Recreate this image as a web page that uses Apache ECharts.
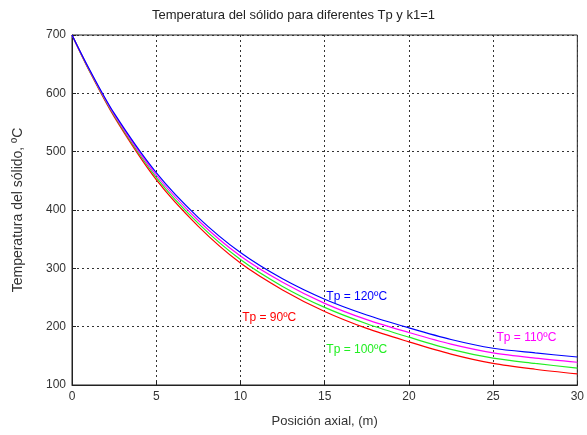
<!DOCTYPE html>
<html>
<head>
<meta charset="utf-8">
<script src="https://cdn.jsdelivr.net/npm/echarts@6/dist/echarts.min.js"></script>
<style>
html,body{margin:0;padding:0;background:#fff;}
#chart{width:587px;height:435px;}
</style>
</head>
<body>
<div id="chart"></div>
<script>
// posicion axial (m)
var posicion = [0, 1, 2.5, 5, 7.5, 10, 12.5, 15, 17.5, 20, 22.5, 25, 27.5, 30];
// temperatura del solido para cada Tp
var tp90  = [700, 640, 560, 452, 372, 309, 263, 226, 197, 174, 153, 137, 127, 119];
var tp100 = [700, 641, 562, 456, 377, 315, 269, 233, 205, 182, 161, 146, 137, 129];
var tp110 = [700, 642, 564, 460, 382, 321, 276, 240, 212, 190, 170, 155, 146, 139];
var tp120 = [700, 643, 566, 464, 387, 327, 282, 247, 220, 198, 178, 163, 155, 148];
var xTicks = [0, 5, 10, 15, 20, 25, 30];
var yTicks = [100, 200, 300, 400, 500, 600, 700];

var fuente = 'Liberation Sans';

function pares(ys){
    var out = [];
    for(var i=0;i<posicion.length;i++){
        out.push([posicion[i], ys[i]]);
    }
    return out;
}

// etiqueta de texto en coordenadas de datos
function etiqueta(txt, x, y, color){
    return {
        symbol:'circle',
        symbolSize:0,
        coord:[x, y],
        label:{
            show:true,
            formatter:txt,
            position:'right',
            distance:0,
            color:color,
            fontSize:12,
            fontFamily:fuente
        }
    };
}

function serie(nombre, ys, color, marca){
    return {
        name:nombre,
        type:'line',
        data:pares(ys),
        smooth:0.3,
        symbol:'none',
        lineStyle:{color:color, width:1.2},
        itemStyle:{color:color},
        markPoint:{
            silent:true,
            data:[marca]
        },
        animation:false
    };
}

var myChart = echarts.init(document.getElementById('chart'));

var option = {
    backgroundColor:'#fff',
    title:{
        text:'Temperatura del sólido para diferentes Tp y k1=1',
        left:'center',
        top:4,
        textStyle:{fontSize:13, fontWeight:'normal', color:'#222', fontFamily:fuente}
    },
    grid:{
        left:72, right:9, top:35, bottom:50,
        show:true,
        borderColor:'#222',
        borderWidth:1
    },
    xAxis:{
        type:'value',
        min:0, max:30, interval:5,
        name:'Posición axial, (m)',
        nameLocation:'middle',
        nameGap:30,
        nameTextStyle:{fontSize:13, color:'#333', fontFamily:fuente},
        axisLine:{lineStyle:{color:'#222'}},
        axisTick:{inside:true, length:4, lineStyle:{color:'#222'}},
        axisLabel:{
            fontSize:12, color:'#333', fontFamily:fuente, margin:6,
            formatter:function(v){ return xTicks.indexOf(v) >= 0 ? String(v) : ''; }
        },
        splitLine:{show:true, lineStyle:{color:'#333', type:[2,3], width:1}}
    },
    yAxis:{
        type:'value',
        min:100, max:700, interval:100,
        name:'Temperatura del sólido, ºC',
        nameLocation:'middle',
        nameGap:47,
        nameTextStyle:{fontSize:14, color:'#333', fontFamily:fuente},
        axisLine:{show:true, lineStyle:{color:'#222'}},
        axisTick:{show:true, inside:true, length:4, lineStyle:{color:'#222'}},
        axisLabel:{
            fontSize:12, color:'#333', fontFamily:fuente, margin:6,
            formatter:function(v){ return yTicks.indexOf(v) >= 0 ? String(v) : ''; }
        },
        splitLine:{show:true, lineStyle:{color:'#333', type:[2,3], width:1}}
    },
    series:[
        serie('Tp = 90ºC', tp90, '#ff0000', etiqueta('Tp = 90ºC', 10.1, 215, '#ff0000')),
        serie('Tp = 100ºC', tp100, '#22ee22', etiqueta('Tp = 100ºC', 15.1, 160, '#22ee22')),
        serie('Tp = 110ºC', tp110, '#ff00ff', etiqueta('Tp = 110ºC', 25.2, 181, '#ff00ff')),
        serie('Tp = 120ºC', tp120, '#0000ff', etiqueta('Tp = 120ºC', 15.1, 251, '#0000ff'))
    ]
};

myChart.setOption(option);
</script>
</body>
</html>
